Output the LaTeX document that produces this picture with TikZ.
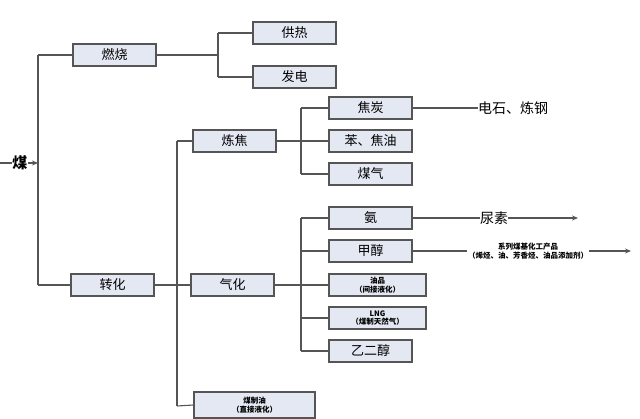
\documentclass[tikz,border=0pt]{standalone}
\usepackage{fontspec}
\setmainfont{Noto Sans CJK SC}
\usetikzlibrary{arrows.meta}
\definecolor{boxfill}{HTML}{E4E8F2}
\definecolor{edge}{HTML}{555555}
\tikzset{
  box/.style={draw=edge, line width=1.1pt, fill=boxfill, minimum width=83pt, minimum height=22pt, inner sep=0pt, font=\fontsize{13}{14}\selectfont, align=center},
  widebox/.style={box, minimum width=97pt},
  small/.style={font=\fontsize{7.5}{8.5}\selectfont\bfseries},
  conn/.style={draw=edge, line width=1.1pt},
  arr/.style={draw=edge, line width=1.1pt, arrows={-Stealth[length=6pt,width=5pt]}},
  lbl/.style={inner sep=0pt, font=\fontsize{13}{14}\selectfont}
}
\begin{document}
\begin{tikzpicture}[x=1pt,y=-1pt]
\useasboundingbox (0,0) rectangle (640,418);
% nodes
\node[lbl, font=\fontsize{15}{16}\selectfont\bfseries] (mei) at (20,163) {煤};
\coordinate (mstart) at (0,163);
\coordinate (trunk) at (38,163);
\coordinate (t1) at (38,55);
\coordinate (t2) at (38,285);
\node[box] (rs) at (114.5,55) {燃烧};
\node[box] (zh) at (112.5,285) {转化};
\coordinate (b1) at (218,55);
\coordinate (b1t) at (218,33);
\coordinate (b1b) at (218,77);
\node[box] (gr) at (294.5,33) {供热};
\node[box] (fd) at (294.5,77) {发电};
\coordinate (b2) at (177,285);
\coordinate (b2t) at (177,141);
\coordinate (b2b) at (177,406);
\node[box] (lj) at (234.5,141) {炼焦};
\node[box] (qh) at (232.5,285) {气化};
\node[box, minimum width=121pt, minimum height=26pt, small] (mzy) at (254.5,405) {煤制油\\（直接液化）};
\coordinate (b3) at (301,141);
\coordinate (b3t) at (301,108);
\coordinate (b3b) at (301,174);
\node[box] (jt) at (370.5,108) {焦炭};
\node[box] (bjy) at (370.5,141) {苯、焦油};
\node[box] (mq) at (370.5,174) {煤气};
\node[lbl, anchor=west, font=\fontsize{14}{15}\selectfont] (dsl) at (478,108) {电石、炼钢};
\coordinate (b4) at (301,285);
\coordinate (b4t) at (301,218);
\coordinate (b4b) at (301,351);
\node[box] (an) at (370.5,218) {氨};
\node[box] (jc) at (370.5,251) {甲醇};
\node[widebox, small] (yp) at (377.5,285) {油品\\（间接液化）};
\node[widebox, small] (lng) at (377.5,318) {LNG\\（煤制天然气）};
\node[box] (yec) at (370.5,351) {乙二醇};
\node[lbl, anchor=west, font=\fontsize{14}{15}\selectfont] (ns) at (480,218) {尿素};
\coordinate (nsend) at (578,218);
\node[small, align=center, inner sep=1pt] (xl) at (528,251) {系列煤基化工产品\\（烯烃、油、芳香烃、油品添加剂）};
\coordinate (xlend) at (631,251);
% connectors
\draw[conn] (mstart) -- (mei.west);
\draw[arr] (mei.east) -- (trunk);
\draw[conn] (t1) -- (t2);
\draw[conn] (t1) -- (rs.west);
\draw[conn] (t2) -- (zh.west);
\draw[conn] (rs.east) -- (b1);
\draw[conn] (b1t) -- (b1b);
\draw[conn] (b1t) -- (gr.west);
\draw[conn] (b1b) -- (fd.west);
\draw[conn] (zh.east) -- (qh.west);
\draw[conn] (b2t) -- (b2b);
\draw[conn] (b2t) -- (lj.west);
\draw[conn] (b2b) -- (mzy.west);
\draw[conn] (lj.east) -- (b3);
\draw[conn] (b3t) -- (b3b);
\draw[conn] (b3t) -- (jt.west);
\draw[conn] (b3) -- (bjy.west);
\draw[conn] (b3b) -- (mq.west);
\draw[conn] (jt.east) -- (dsl.west);
\draw[conn] (qh.east) -- (b4);
\draw[conn] (b4t) -- (b4b);
\draw[conn] (b4t) -- (an.west);
\draw[conn] (301,251) -- (jc.west);
\draw[conn] (b4) -- (yp.west);
\draw[conn] (301,318) -- (lng.west);
\draw[conn] (b4b) -- (yec.west);
\draw[conn] (an.east) -- (ns.west);
\draw[arr] (ns.east) -- (nsend);
\draw[conn] (jc.east) -- (xl.west);
\draw[arr] (xl.east) -- (xlend);
\end{tikzpicture}
\end{document}
